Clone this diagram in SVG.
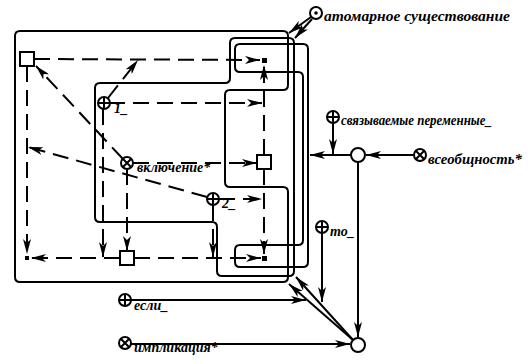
<svg xmlns="http://www.w3.org/2000/svg" width="531" height="364" viewBox="0 0 531 364">
<style>
.sh{fill:none;stroke:#000;stroke-width:2}
.d{fill:none;stroke:#000;stroke-width:2;stroke-dasharray:16 8}
.s{fill:none;stroke:#000;stroke-width:2}
.a{marker-end:url(#ah)}
.c{fill:#fff;stroke:#000;stroke-width:2}
.sq{fill:#fff;stroke:#000;stroke-width:2}
.t{font-family:"Liberation Serif","Times New Roman",serif;font-style:italic;font-weight:bold;font-size:14px;fill:#000}
</style>
<defs>
<marker id="ah" viewBox="0 0 15 8" refX="15" refY="4" markerWidth="15" markerHeight="8" markerUnits="userSpaceOnUse" orient="auto">
<path d="M0,0 L15,4 L0,8 L4,4 Z" fill="#000"/>
</marker>
</defs>
<rect width="531" height="364" fill="#fff"/>
<g id="regions">
<path class="sh" d="M20,31 H283 Q288,31 288,36 V85 Q288,90 283,90 H230 Q225,90 225,95 V182 Q225,187 230,187 H283 Q288,187 288,192 V277 Q288,282 283,282 H20 Q15,282 15,277 V36 Q15,31 20,31 Z"/>
<path class="sh" d="M100,83 H225 Q230,83 230,78 V43 Q230,38 235,38 H289 Q294,38 294,43 V271 Q294,276 289,276 H222 Q217,276 217,271 V227 Q217,222 212,222 H100 Q95,222 95,217 V88 Q95,83 100,83 Z"/>
<path class="sh" d="M240,44 H303 Q308,44 308,49 V262 Q308,267 303,267 H240 Q235,267 235,262 V250 Q235,245 240,245 H298 Q303,245 303,240 V77 Q303,72 298,72 H240 Q235,72 235,67 V49 Q235,44 240,44 Z"/>
</g>
<g id="connectors">
<line class="d a" x1="34" y1="59" x2="260" y2="60"/>
<line class="d a" x1="27" y1="66" x2="27" y2="254"/>
<line class="d a" x1="120" y1="258" x2="31" y2="258"/>
<line class="d a" x1="134" y1="258" x2="261" y2="258"/>
<line class="d a" x1="109" y1="103" x2="262" y2="103"/>
<line class="d a" x1="108" y1="98" x2="138" y2="60"/>
<line class="d a" x1="103" y1="109" x2="103" y2="257"/>
<line class="d a" x1="264" y1="155" x2="264" y2="65"/>
<line class="d a" x1="264" y1="169" x2="264" y2="254"/>
<line class="d a" x1="133" y1="163" x2="257" y2="163"/>
<line class="d a" x1="127" y1="169" x2="127" y2="251"/>
<line class="d a" x1="123" y1="159" x2="36" y2="66"/>
<line class="d a" x1="219" y1="199" x2="262" y2="199"/>
<line class="d a" x1="213" y1="205" x2="213" y2="257"/>
<line class="d a" x1="207" y1="197" x2="28" y2="147"/>
<line class="s a" x1="311" y1="17" x2="289" y2="33"/>
<line class="s a" x1="312" y1="19" x2="295" y2="38"/>
<line class="s a" x1="333" y1="123" x2="333" y2="154"/>
<line class="s a" x1="351" y1="155" x2="310" y2="155"/>
<line class="s a" x1="414" y1="155" x2="366" y2="155"/>
<line class="s a" x1="358" y1="162" x2="358" y2="337"/>
<line class="s a" x1="353" y1="340" x2="289" y2="284"/>
<line class="s a" x1="353" y1="340" x2="296" y2="277"/>
<line class="s a" x1="322" y1="233" x2="322" y2="302"/>
<line class="s a" x1="131" y1="300" x2="306" y2="300"/>
<line class="s a" x1="131" y1="344" x2="350" y2="344"/>
</g>
<g id="sqA"><rect class="sq" x="20" y="52" width="14" height="14"/></g>
<g id="sqB"><rect class="sq" x="257" y="155" width="14" height="14"/></g>
<g id="sqC"><rect class="sq" x="120" y="251" width="14" height="14"/></g>
<g id="dotTop"><rect x="262" y="58" width="5" height="5" fill="#000"/></g>
<g id="dotBot"><rect x="262" y="256" width="5" height="5" fill="#000"/></g>
<g id="dotLeft"><rect x="25" y="256" width="4" height="4" fill="#000"/></g>
<g id="n1"><circle class="c" cx="104" cy="103" r="6"/><path class="s" d="M98,103 H110 M104,97 V109"/><text class="t" x="114" y="113" font-size="12">1_</text></g>
<g id="n2"><circle class="c" cx="213" cy="199" r="6"/><path class="s" d="M207,199 H219 M213,193 V205"/><text class="t" x="222" y="208" font-size="12">2_</text></g>
<g id="vkl"><circle class="c" cx="127" cy="163" r="6"/><path class="s" d="M123,159 L131,167 M131,159 L123,167"/><text class="t" x="137" y="172">включение*</text></g>
<g id="atom"><circle class="c" cx="316" cy="13" r="6"/><circle cx="316" cy="13" r="1.8" fill="#000"/><text class="t" x="324" y="21" textLength="186" lengthAdjust="spacingAndGlyphs">атомарное существование</text></g>
<g id="svyaz"><circle class="c" cx="333" cy="117" r="6"/><path class="s" d="M327,117 H339 M333,111 V123"/><text class="t" x="341" y="125" textLength="151" lengthAdjust="spacingAndGlyphs">связываемые переменные_</text></g>
<g id="vseob"><circle class="c" cx="420" cy="155" r="6"/><path class="s" d="M416,151 L424,159 M424,151 L416,159"/><text class="t" x="428" y="164" textLength="94" lengthAdjust="spacingAndGlyphs">всеобщность*</text></g>
<g id="to"><circle class="c" cx="322" cy="227" r="6"/><path class="s" d="M316,227 H328 M322,221 V233"/><text class="t" x="330" y="236">то_</text></g>
<g id="esli"><circle class="c" cx="125" cy="300" r="6"/><path class="s" d="M119,300 H131 M125,294 V306"/><text class="t" x="134" y="310">если_</text></g>
<g id="impl"><circle class="c" cx="125" cy="343" r="6"/><path class="s" d="M121,339 L129,347 M129,339 L121,347"/><text class="t" x="134" y="352">импликация*</text></g>
<g id="j1"><circle class="c" cx="358" cy="155" r="7"/></g>
<g id="j2"><circle class="c" cx="358" cy="345" r="7"/></g>
</svg>
